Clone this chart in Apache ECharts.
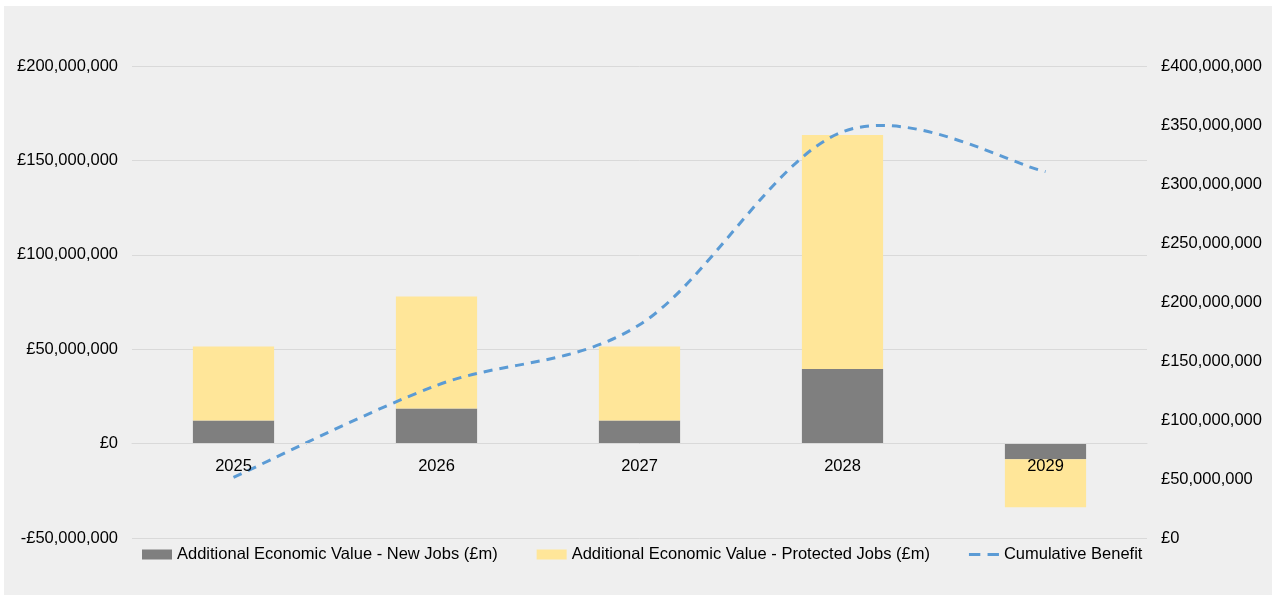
<!DOCTYPE html>
<html>
<head>
<meta charset="utf-8">
<script src="https://cdn.jsdelivr.net/npm/echarts@6/dist/echarts.min.js"></script>
<style>
  html, body { margin: 0; padding: 0; background: #ffffff; width: 1272px; height: 595px; overflow: hidden; }
  #chart { position: absolute; left: 4px; top: 6px; width: 1268px; height: 589px; background: #efefef; }
</style>
</head>
<body>
<div id="chart"></div>
<script>
// Values in £m
const years = ['2025', '2026', '2027', '2028', '2029'];
const newJobs = [12.2, 18.6, 12.2, 39.5, -8.3];
const protectedJobs = [39.2, 59.3, 39.2, 124.0, -25.4];
const cumulativeBenefit = [51.4, 129.3, 180.7, 344.2, 310.5];

const leftTicks = { min: -50, max: 200, interval: 50 };
const rightTicks = { min: 0, max: 400, interval: 50 };

const NAME_NEW = 'Additional Economic Value - New Jobs (£m)';
const NAME_PROT = 'Additional Economic Value - Protected Jobs (£m)';
const NAME_CUM = 'Cumulative Benefit';

function pounds(m) {
  const v = Math.round(m * 1e6);
  const s = Math.abs(v).toString().replace(/\B(?=(\d{3})+(?!\d))/g, ',');
  return (v < 0 ? '-£' : '£') + s;
}

// layout of the plot area inside the chart box
const GRID = { left: 128, right: 125, top: 60, bottom: 57 };
const CHART_H = 589;
const plotH = CHART_H - GRID.top - GRID.bottom;
// category axis sits on the £0 line of the left axis
const zeroOffset = -plotH * (0 - leftTicks.min) / (leftTicks.max - leftTicks.min);

const font = 'Liberation Sans, Arial, sans-serif';
const FS = 16.5;
const lineColor = '#5b9bd5';

// Smooth (Catmull-Rom style) path through the projected points
function smoothPath(pts) {
  let d = 'M' + pts[0][0] + ',' + pts[0][1];
  for (let i = 0; i < pts.length - 1; i++) {
    const p0 = pts[Math.max(i - 1, 0)];
    const p1 = pts[i];
    const p2 = pts[i + 1];
    const p3 = pts[Math.min(i + 2, pts.length - 1)];
    const c1x = p1[0] + (p2[0] - p0[0]) / 6;
    const c1y = p1[1] + (p2[1] - p0[1]) / 6;
    const c2x = p2[0] - (p3[0] - p1[0]) / 6;
    const c2y = p2[1] - (p3[1] - p1[1]) / 6;
    d += ' C' + c1x + ',' + c1y + ' ' + c2x + ',' + c2y + ' ' + p2[0] + ',' + p2[1];
  }
  return d;
}

const valueLabel = { fontFamily: font, fontSize: FS, color: '#000', margin: 14, padding: [3, 0, 0, 0], formatter: pounds };

const chart = echarts.init(document.getElementById('chart'), null, { renderer: 'canvas' });

chart.setOption({
  backgroundColor: '#efefef',
  animation: false,
  textStyle: { fontFamily: font },
  grid: Object.assign({ containLabel: false }, GRID),
  legend: {
    left: 138,
    top: 540,
    padding: 0,
    itemWidth: 30,
    itemHeight: 10,
    itemGap: 39,
    textStyle: { fontFamily: font, fontSize: FS, color: '#000' },
    data: [
      { name: NAME_NEW, icon: 'rect' },
      { name: NAME_PROT, icon: 'rect' },
      { name: NAME_CUM, icon: 'path://M0,0h11v3H0z M18,0h11v3h-11z', itemStyle: { color: lineColor } }
    ]
  },
  xAxis: {
    type: 'category',
    data: years,
    z: 10,
    offset: zeroOffset,
    axisLine: { onZero: false, lineStyle: { color: '#d9d9d9', width: 1 } },
    axisTick: { show: false },
    axisLabel: { fontFamily: font, fontSize: FS, color: '#000', margin: 14 }
  },
  yAxis: [
    {
      type: 'value',
      min: leftTicks.min, max: leftTicks.max, interval: leftTicks.interval,
      axisLine: { show: false },
      axisTick: { show: false },
      splitLine: { lineStyle: { color: '#d9d9d9', width: 1 } },
      axisLabel: valueLabel
    },
    {
      type: 'value',
      position: 'right',
      min: rightTicks.min, max: rightTicks.max, interval: rightTicks.interval,
      axisLine: { show: false },
      axisTick: { show: false },
      splitLine: { show: false },
      axisLabel: valueLabel
    }
  ],
  series: [
    {
      name: NAME_NEW,
      type: 'bar',
      stack: 'value',
      barWidth: '40%',
      yAxisIndex: 0,
      itemStyle: { color: '#7f7f7f' },
      data: newJobs
    },
    {
      name: NAME_PROT,
      type: 'bar',
      stack: 'value',
      barWidth: '40%',
      yAxisIndex: 0,
      itemStyle: { color: '#ffe699' },
      data: protectedJobs
    },
    {
      name: NAME_CUM,
      type: 'custom',
      coordinateSystem: 'cartesian2d',
      yAxisIndex: 1,
      z: 5,
      itemStyle: { color: lineColor },
      data: cumulativeBenefit.map((v, i) => [i, v]),
      encode: { x: 0, y: 1 },
      renderItem: function (params, api) {
        if (params.dataIndex !== 0) return null;
        const pts = cumulativeBenefit.map((v, i) => api.coord([i, v]));
        return {
          type: 'path',
          shape: { pathData: smoothPath(pts) },
          style: { fill: null, stroke: lineColor, lineWidth: 3, lineDash: [9, 7] }
        };
      }
    }
  ]
});
</script>
</body>
</html>
